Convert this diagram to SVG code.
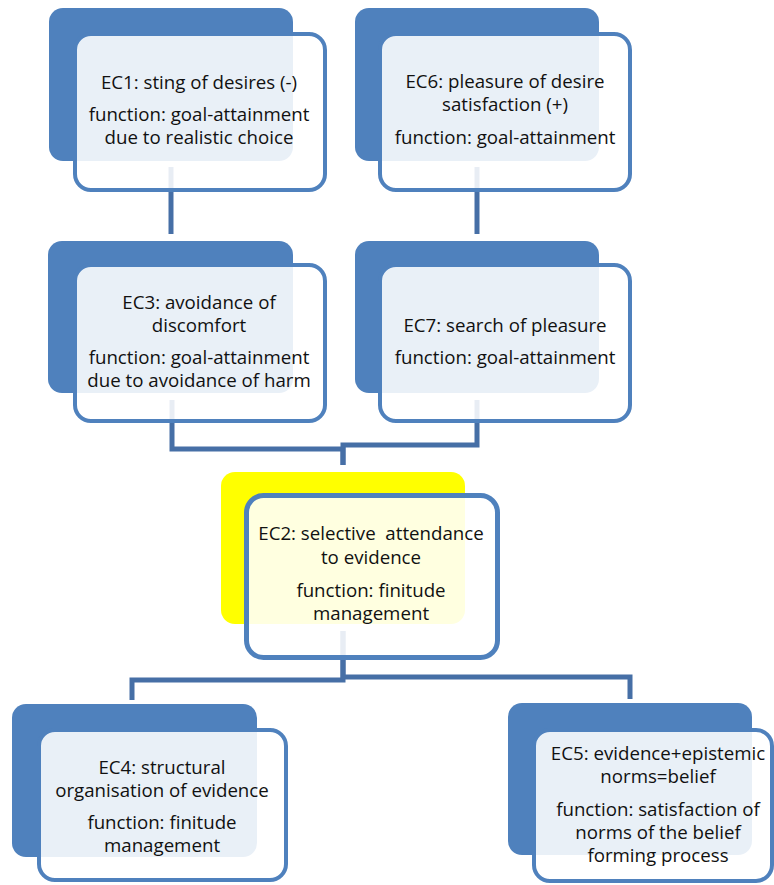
<svg xmlns="http://www.w3.org/2000/svg" width="774" height="885" viewBox="0 0 774 885">
  <style>
    .back { fill: #4F81BD; }
    .back.hl { fill: #FFFF00; }
    .front { fill: #FFFFFF; fill-opacity: 0.88; stroke: #4F81BD; stroke-width: 4; }
    .front.hl { stroke-width: 5; }
    .link { fill: none; stroke: #466FA6; stroke-width: 5; stroke-linejoin: miter; }
    text { font-family: "Open Sans", "Noto Sans", "Liberation Sans", sans-serif; font-size: 18.7px; fill: #111111; text-anchor: middle; }
  </style>

  <!-- connectors (drawn beneath the cards) -->
  <g id="connectors">
    <path class="link" d="M171 167 V234"/>
    <path class="link" d="M477 167 V234"/>
    <path class="link" d="M172 400 V449 H343 V465"/>
    <path class="link" d="M477 400 V445 H343 V465"/>
    <path class="link" d="M343 631 V680 H132 V700"/>
    <path class="link" d="M343 631 V677 H630 V699"/>
  </g>

  <g id="ec1">
    <rect class="back" x="49" y="8" width="244" height="153" rx="14"/>
    <rect class="front" x="75" y="34" width="250" height="156" rx="16"/>
    <text x="199" y="89">EC1: sting of desires (-)</text>
    <text x="199" y="121">function: goal-attainment</text>
    <text x="199" y="144">due to realistic choice</text>
  </g>

  <g id="ec6">
    <rect class="back" x="355" y="8" width="244" height="153" rx="14"/>
    <rect class="front" x="380" y="34" width="250" height="156" rx="16"/>
    <text x="505" y="88">EC6: pleasure of desire</text>
    <text x="505" y="111">satisfaction (+)</text>
    <text x="505" y="144">function: goal-attainment</text>
  </g>

  <g id="ec3">
    <rect class="back" x="48" y="241" width="245" height="152" rx="14"/>
    <rect class="front" x="75" y="265" width="250" height="156" rx="16"/>
    <text x="199" y="309">EC3: avoidance of</text>
    <text x="199" y="332">discomfort</text>
    <text x="199" y="364">function: goal-attainment</text>
    <text x="199" y="387">due to avoidance of harm</text>
  </g>

  <g id="ec7">
    <rect class="back" x="355" y="241" width="244" height="152" rx="14"/>
    <rect class="front" x="380" y="265" width="250" height="156" rx="16"/>
    <text x="505" y="332">EC7: search of pleasure</text>
    <text x="505" y="364">function: goal-attainment</text>
  </g>

  <g id="ec2">
    <rect class="back hl" x="221" y="472" width="244" height="152" rx="14"/>
    <rect class="front hl" x="246.5" y="495.5" width="251" height="162" rx="17"/>
    <text x="371" y="540" xml:space="preserve">EC2: selective  attendance</text>
    <text x="371" y="564">to evidence</text>
    <text x="371" y="597">function: finitude</text>
    <text x="371" y="620">management</text>
  </g>

  <g id="ec4">
    <rect class="back" x="12" y="704" width="245" height="153" rx="14"/>
    <rect class="front" x="39" y="730" width="247" height="150" rx="16"/>
    <text x="162" y="774">EC4: structural</text>
    <text x="162" y="797">organisation of evidence</text>
    <text x="162" y="829">function: finitude</text>
    <text x="162" y="852">management</text>
  </g>

  <g id="ec5">
    <rect class="back" x="508" y="703" width="244" height="152" rx="14"/>
    <rect class="front" x="534" y="730" width="238" height="151" rx="16"/>
    <text x="658" y="760">EC5: evidence+epistemic</text>
    <text x="658" y="783">norms=belief</text>
    <text x="658" y="816">function: satisfaction of</text>
    <text x="658" y="839">norms of the belief</text>
    <text x="658" y="862">forming process</text>
  </g>
</svg>
